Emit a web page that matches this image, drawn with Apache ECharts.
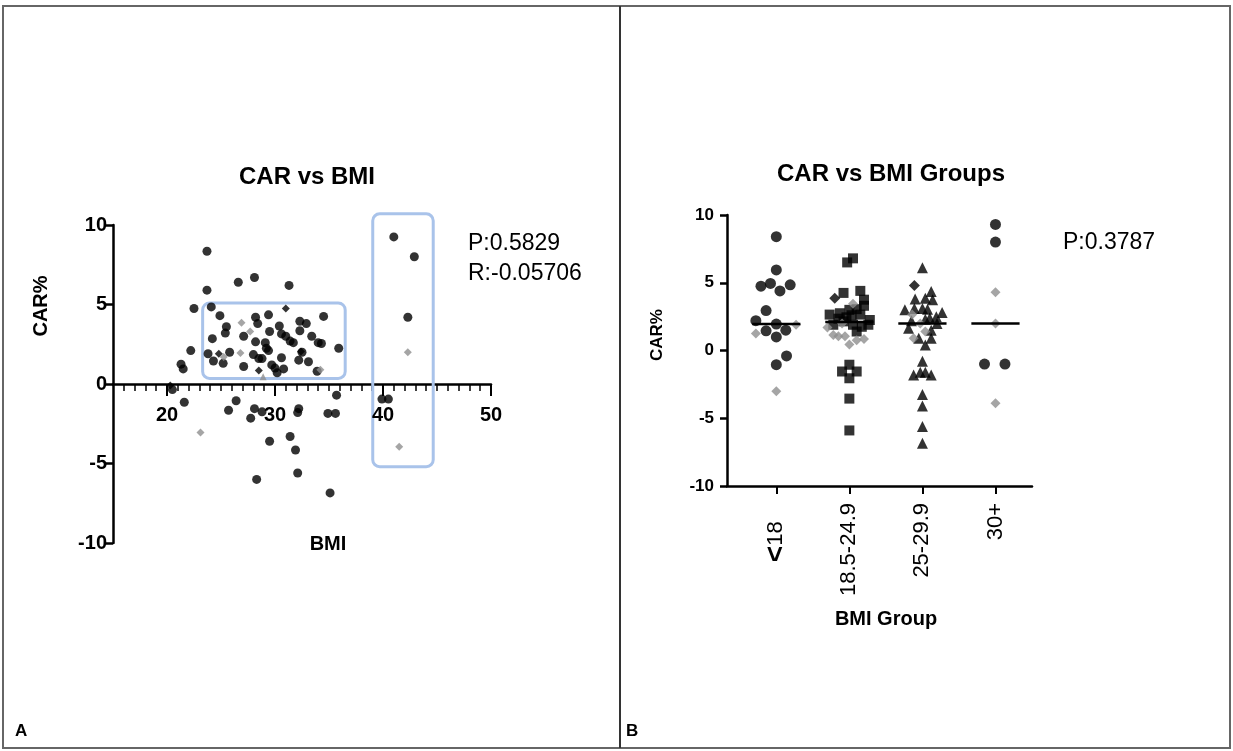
<!DOCTYPE html>
<html>
<head>
<meta charset="utf-8">
<title>CAR vs BMI</title>
<script src="https://cdn.jsdelivr.net/npm/echarts@6.0.0/dist/echarts.min.js"></script>
<style>
html, body { margin: 0; padding: 0; background: #fff; }
#main { width: 1233px; height: 751px; }
</style>
</head>
<body>
<div id="main"></div>
<script>
// ---- panel A : CAR% against BMI ----
var aCircles = [
    [23.7, 8.35], [23.7, 5.9], [22.5, 4.75], [26.6, 6.4], [28.1, 6.7], [31.3, 6.2],
    [22.2, 2.1], [21.3, 1.25], [21.5, 0.95], [24.1, 4.85], [24.9, 4.3], [25.5, 3.6],
    [25.4, 3.2], [24.2, 2.85], [23.8, 1.9], [24.3, 1.45], [25.2, 1.3], [25.8, 2.0],
    [27.1, 3.0], [27.1, 1.1], [28.2, 4.2], [28.4, 3.8], [29.4, 4.35], [29.5, 3.3],
    [28.2, 2.65], [29.1, 2.6], [29.2, 2.25], [29.4, 2.1], [28.0, 1.85], [28.5, 1.6],
    [28.8, 1.6], [29.7, 1.2], [30.0, 1.0], [30.2, 0.7], [30.4, 3.65], [30.6, 3.15],
    [31.0, 3.0], [31.4, 2.7], [31.7, 2.6], [30.6, 1.65], [30.8, 0.95], [32.3, 3.95],
    [32.9, 3.8], [32.3, 3.35], [33.4, 3.0], [32.5, 2.0], [32.2, 1.5], [33.1, 1.4],
    [34.0, 2.6], [34.3, 2.55], [34.5, 4.25], [33.9, 0.8], [35.9, 2.25],
    [41.0, 9.25], [42.9, 8.0], [42.3, 4.2],
    [20.5, -0.35], [21.6, -1.15], [25.7, -1.65], [26.4, -1.05], [27.75, -2.15],
    [28.1, -1.55], [28.8, -1.75], [29.5, -3.6], [28.3, -6.0], [31.4, -3.3],
    [31.9, -4.15], [32.1, -5.6], [32.2, -1.55], [32.1, -1.8], [34.9, -1.85],
    [35.6, -1.85], [35.7, -0.7], [35.1, -6.85], [39.9, -0.95], [40.5, -0.95]
];
var aGrayDiamonds = [
    [26.9, 3.85], [27.7, 3.3], [26.8, 1.95], [25.25, 1.7], [34.2, 0.9],
    [42.3, 2.0], [23.1, -3.05], [41.5, -3.95]
];
var aBlackDiamonds = [[24.8, 1.9], [28.5, 0.85], [31.0, 4.75], [32.4, 2.05], [20.3, -0.1]];
var aGrayTriangles = [[28.9, 0.45]];
// highlighted regions [x1, y1, x2, y2]
var aBoxes = [[23.3, 5.1, 36.5, 0.35], [39.05, 10.7, 44.65, -5.2]];
var aMajorTicks = [20, 30, 40, 50];
var statsA = ['P:0.5829', 'R:-0.05706'];

// ---- panel B : CAR% by BMI group ----
var groups = ['<18', '18.5-24.9', '25-29.9', '30+'];
// points are [horizontal offset within the group column, CAR%]
var g0Circles = [
    [0, 8.4], [0, 5.95], [-0.21, 4.75], [-0.08, 4.95], [0.05, 4.4], [0.19, 4.85],
    [-0.14, 2.95], [-0.28, 2.2], [0, 1.95], [-0.14, 1.45], [0, 1.0], [0.13, 1.5],
    [0.14, -0.4], [0, -1.05]
];
var g0Gray = [[-0.28, 1.25], [0.27, 1.9], [0, -3.0]];
var g1Squares = [
    [-0.03, 6.5], [0.05, 6.8], [-0.08, 4.25], [0.15, 4.4], [0.2, 3.75], [-0.27, 2.65],
    [-0.13, 2.75], [0, 3.0], [0.1, 3.05], [0.15, 2.65], [0.28, 2.25], [-0.22, 1.9],
    [-0.08, 2.15], [0.05, 1.9], [0.17, 1.75], [0.26, 1.9], [0.1, 1.4], [-0.04, 2.45],
    [0.03, 2.6], [-0.15, 2.35], [0.2, 3.3], [-0.1, -1.55], [0, -1.05], [0.1, -1.55],
    [0, -2.05], [0, -3.55], [0, -5.9]
];
var g1Gray = [
    [0.05, 3.45], [-0.3, 1.7], [-0.22, 1.15], [-0.15, 1.05], [-0.06, 1.05],
    [0.0, 0.45], [0.2, 0.85], [0.1, 0.75], [-0.1, 2.0]
];
var g1Diamonds = [[-0.2, 3.85]];
var g2Triangles = [
    [0, 6.1], [0.12, 4.35], [0.04, 3.85], [-0.1, 3.8], [0.14, 3.75], [-0.24, 3.0],
    [-0.11, 3.1], [0, 3.1], [0.07, 3.05], [0.27, 2.8], [0.19, 2.5], [0.1, 2.4],
    [0.04, 2.3], [-0.15, 2.2], [0.2, 2.0], [-0.19, 1.65], [0.12, 1.5], [-0.05, 0.9],
    [0.12, 0.9], [0.04, 0.4], [0, -0.8], [-0.12, -1.8], [-0.03, -1.6], [0.04, -1.6],
    [0.12, -1.8], [0, -3.25], [0, -4.1], [0, -5.6], [0, -6.85]
];
var g2Gray = [[-0.14, 2.65], [-0.03, 2.0], [-0.12, 0.9], [0.04, 1.4]];
var g2Diamonds = [[-0.11, 4.8]];
var g3Circles = [[0, 9.3], [0, 8.0], [-0.15, -1.0], [0.13, -1.0]];
var g3Gray = [[0, 4.3], [0, 2.0], [0, -3.9]];
var medians = [1.95, 2.1, 2.0, 2.0];
var statsB = 'P:0.3787';

function place(points, groupIndex) {
    return points.map(function (p) { return [groupIndex + p[0], p[1]]; });
}

var black = '#000';
var gray = '#8e8e8e';
var boldFont = 'Liberation Sans';

var minorTicks = [];
for (var t = 16; t <= 50; t++) minorTicks.push(t);

var myChart = echarts.init(document.getElementById('main'));

var option = {
    backgroundColor: '#fff',
    animation: false,
    title: [
        {
            text: 'CAR vs BMI', left: 302, top: 160, textAlign: 'center',
            textStyle: { fontFamily: boldFont, fontWeight: 'bold', fontSize: 24, color: black }
        },
        {
            text: 'CAR vs BMI Groups', left: 886, top: 157, textAlign: 'center',
            textStyle: { fontFamily: boldFont, fontWeight: 'bold', fontSize: 24, color: black }
        }
    ],
    grid: [
        { left: 113, top: 225, width: 378, height: 318, outerBoundsMode: 'none' },
        { left: 727, top: 215, width: 305, height: 271, outerBoundsMode: 'none' }
    ],
    xAxis: [
        {
            gridIndex: 0, type: 'value', min: 15, max: 50,
            axisLine: { onZero: true, lineStyle: { color: black, width: 2.5 } },
            axisTick: { customValues: minorTicks, length: 7, lineStyle: { color: black, width: 1.5 } },
            axisLabel: { show: false },
            splitLine: { show: false }
        },
        {
            gridIndex: 1, type: 'value', min: -0.675, max: 3.5,
            axisLine: { onZero: false, lineStyle: { color: black, width: 2.5 } },
            axisTick: { customValues: [0, 1, 2, 3], length: 8, lineStyle: { color: black, width: 2 } },
            axisLabel: {
                customValues: [0, 1, 2, 3], rotate: 90, margin: 17, color: black,
                fontFamily: boldFont, fontSize: 22,
                formatter: function (v) {
                    var s = groups[Math.round(v)];
                    if (s.charAt(0) === '<') return '{lt|<}' + s.slice(1) + '   ';
                    return s;
                },
                rich: {
                    lt: { fontFamily: boldFont, fontWeight: 'bold', fontSize: 28, color: black }
                }
            },
            splitLine: { show: false }
        }
    ],
    yAxis: [
        {
            gridIndex: 0, type: 'value', min: -10, max: 10, interval: 5,
            axisLine: { show: true, onZero: false, lineStyle: { color: black, width: 2.5 } },
            axisTick: { show: true, length: 7, lineStyle: { color: black, width: 2.5 } },
            axisLabel: { margin: 6, color: black, fontFamily: boldFont, fontWeight: 'bold', fontSize: 20 },
            splitLine: { show: false }
        },
        {
            gridIndex: 1, type: 'value', min: -10, max: 10, interval: 5,
            axisLine: { show: true, onZero: false, lineStyle: { color: black, width: 2.5 } },
            axisTick: { show: true, length: 7, lineStyle: { color: black, width: 2.5 } },
            axisLabel: { margin: 13, color: black, fontFamily: boldFont, fontWeight: 'bold', fontSize: 17 },
            splitLine: { show: false }
        }
    ],
    series: [
        // panel A
        {
            type: 'custom', xAxisIndex: 0, yAxisIndex: 0, clip: false, z: 1,
            encode: { x: [0, 2], y: [1, 3] },
            data: aBoxes,
            renderItem: function (params, api) {
                var p1 = api.coord([api.value(0), api.value(1)]);
                var p2 = api.coord([api.value(2), api.value(3)]);
                return {
                    type: 'rect',
                    shape: { x: p1[0], y: p1[1], width: p2[0] - p1[0], height: p2[1] - p1[1], r: 7 },
                    style: { fill: 'none', stroke: '#a9c3ea', lineWidth: 3 }
                };
            }
        },
        {
            // long major ticks and their labels, hanging below the zero line
            type: 'custom', xAxisIndex: 0, yAxisIndex: 0, clip: false, z: 2, silent: true,
            data: aMajorTicks.map(function (v) { return [v, 0]; }),
            renderItem: function (params, api) {
                var c = api.coord([api.value(0), api.value(1)]);
                return {
                    type: 'group',
                    children: [
                        {
                            type: 'line',
                            shape: { x1: c[0], y1: c[1], x2: c[0], y2: c[1] + 12 },
                            style: { stroke: black, lineWidth: 2 }
                        },
                        {
                            type: 'text', x: c[0], y: c[1] + 31,
                            style: {
                                text: String(api.value(0)), fill: black, align: 'center',
                                verticalAlign: 'middle', font: 'bold 20px "Liberation Sans"'
                            }
                        }
                    ]
                };
            }
        },
        { type: 'scatter', xAxisIndex: 0, yAxisIndex: 0, symbol: 'circle', symbolSize: 9,
          itemStyle: { color: black }, data: aCircles, z: 3 },
        { type: 'scatter', xAxisIndex: 0, yAxisIndex: 0, symbol: 'diamond', symbolSize: 8,
          itemStyle: { color: black }, data: aBlackDiamonds, z: 3 },
        { type: 'scatter', xAxisIndex: 0, yAxisIndex: 0, symbol: 'diamond', symbolSize: 8,
          itemStyle: { color: gray }, data: aGrayDiamonds, z: 4 },
        { type: 'scatter', xAxisIndex: 0, yAxisIndex: 0, symbol: 'triangle', symbolSize: 7,
          itemStyle: { color: gray }, data: aGrayTriangles, z: 4 },
        // panel B
        { type: 'scatter', xAxisIndex: 1, yAxisIndex: 1, symbol: 'circle', symbolSize: 11,
          itemStyle: { color: black }, data: place(g0Circles, 0).concat(place(g3Circles, 3)), z: 3 },
        { type: 'scatter', xAxisIndex: 1, yAxisIndex: 1, symbol: 'rect', symbolSize: 10,
          itemStyle: { color: black }, data: place(g1Squares, 1), z: 3 },
        { type: 'scatter', xAxisIndex: 1, yAxisIndex: 1, symbol: 'triangle', symbolSize: 11,
          itemStyle: { color: black }, data: place(g2Triangles, 2), z: 3 },
        { type: 'scatter', xAxisIndex: 1, yAxisIndex: 1, symbol: 'diamond', symbolSize: 11,
          itemStyle: { color: black }, data: place(g1Diamonds, 1).concat(place(g2Diamonds, 2)), z: 3 },
        { type: 'scatter', xAxisIndex: 1, yAxisIndex: 1, symbol: 'diamond', symbolSize: 10,
          itemStyle: { color: gray },
          data: place(g0Gray, 0).concat(place(g1Gray, 1), place(g2Gray, 2), place(g3Gray, 3)), z: 4 },
        {
            type: 'custom', xAxisIndex: 1, yAxisIndex: 1, z: 5,
            data: medians.map(function (m, i) { return [i, m]; }),
            renderItem: function (params, api) {
                var c = api.coord([api.value(0), api.value(1)]);
                var w = api.size([0.33, 0])[0];
                return {
                    type: 'line',
                    shape: { x1: c[0] - w, y1: c[1], x2: c[0] + w, y2: c[1] },
                    style: { stroke: black, lineWidth: 2.5 }
                };
            }
        }
    ],
    graphic: [
        { type: 'rect', shape: { x: 3, y: 6, width: 1227, height: 742 },
          style: { fill: 'none', stroke: '#666', lineWidth: 2 }, z: 10 },
        { type: 'line', shape: { x1: 620, y1: 6, x2: 620, y2: 748 },
          style: { stroke: '#333', lineWidth: 2 }, z: 10 },
        { type: 'text', x: 15, y: 731,
          style: { text: 'A', font: 'bold 17px "Liberation Sans"', fill: black, verticalAlign: 'middle' } },
        { type: 'text', x: 626, y: 731,
          style: { text: 'B', font: 'bold 17px "Liberation Sans"', fill: black, verticalAlign: 'middle' } },
        { type: 'text', x: 41, y: 306, rotation: Math.PI / 2,
          style: { text: 'CAR%', font: 'bold 20px "Liberation Sans"', fill: black, align: 'center', verticalAlign: 'middle' } },
        { type: 'text', x: 328, y: 544,
          style: { text: 'BMI', font: 'bold 20px "Liberation Sans"', fill: black, align: 'center', verticalAlign: 'middle' } },
        { type: 'text', x: 657, y: 335, rotation: Math.PI / 2,
          style: { text: 'CAR%', font: 'bold 17px "Liberation Sans"', fill: black, align: 'center', verticalAlign: 'middle' } },
        { type: 'text', x: 886, y: 619,
          style: { text: 'BMI Group', font: 'bold 20px "Liberation Sans"', fill: black, align: 'center', verticalAlign: 'middle' } },
        { type: 'text', x: 468, y: 244,
          style: { text: statsA[0], font: '23px "Liberation Sans"', fill: black, verticalAlign: 'middle' } },
        { type: 'text', x: 468, y: 274,
          style: { text: statsA[1], font: '23px "Liberation Sans"', fill: black, verticalAlign: 'middle' } },
        { type: 'text', x: 1063, y: 243,
          style: { text: statsB, font: '23px "Liberation Sans"', fill: black, verticalAlign: 'middle' } }
    ]
};

myChart.setOption(option);
</script>
</body>
</html>
